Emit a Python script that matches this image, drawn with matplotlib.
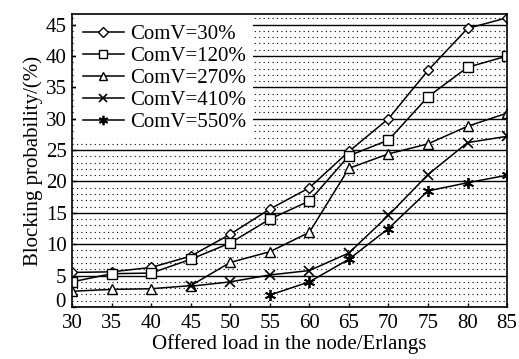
import numpy as np
from matplotlib import pyplot as plt
from matplotlib.ticker import MultipleLocator, FuncFormatter

plt.rcParams['font.family'] = ['Liberation Serif', 'DejaVu Serif']

# offered load (Erlangs)
load = [30, 35, 40, 45, 50, 55, 60, 65, 70, 75, 80, 85]

# blocking probability (%) for each ComV setting
comv30 = [5.5, 5.6, 6.3, 8.1, 11.6, 15.6, 19.0, 24.8, 30.0, 37.7, 44.4, 46.1]
comv120 = [4.0, 5.3, 5.4, 7.6, 10.2, 14.0, 16.9, 24.1, 26.6, 33.5, 38.2, 40.0]
comv270 = [2.5, 2.8, 2.9, 3.4, 7.1, 8.8, 11.9, 22.1, 24.4, 26.0, 28.8, 30.9]
load410 = [45, 50, 55, 60, 65, 70, 75, 80, 85]
comv410 = [3.3, 4.0, 5.1, 5.8, 8.6, 14.6, 21.1, 26.2, 27.2]
load550 = [55, 60, 65, 70, 75, 80, 85]
comv550 = [1.9, 4.0, 7.6, 12.5, 18.5, 19.8, 21.0]

labels = ["ComV=30%", "ComV=120%", "ComV=270%", "ComV=410%", "ComV=550%"]

fig = plt.figure(figsize=(5.19, 3.59), dpi=100)
ax = fig.add_axes([0.139, 0.145, 0.838, 0.816])

ms = 7
ax.plot(load, comv30, color='k', lw=1.1, marker='D', ms=ms - 1.5, mfc='white', mec='k', label=labels[0])
ax.plot(load, comv120, color='k', lw=1.1, marker='s', ms=ms, mfc='white', mec='k', label=labels[1])
ax.plot(load, comv270, color='k', lw=1.1, marker='^', ms=ms, mfc='white', mec='k', label=labels[2])
ax.plot(load410, comv410, color='k', lw=1.1, marker='x', ms=ms, mew=1.2, label=labels[3])
ax.plot(load550, comv550, color='k', lw=1.1, marker=(6, 2, 0), ms=ms + 1, mew=1.3, label=labels[4])

ax.set_xlim(30, 85)
ax.set_ylim(0, 46.7)
ax.xaxis.set_major_locator(MultipleLocator(5))
ax.yaxis.set_major_locator(MultipleLocator(5))
ax.yaxis.set_minor_locator(MultipleLocator(1))
# the "0" label is drawn separately, lifted a bit to clear "30"
ax.yaxis.set_major_formatter(FuncFormatter(lambda v, p: "" if v == 0 else "%d" % v))
ax.grid(True, which='major', axis='y', color='k', lw=1.0)
ax.grid(True, which='minor', axis='y', color='k', lw=0.8, ls=(0, (1, 3)))
ax.set_axisbelow(True)
ax.tick_params(which='major', direction='in', length=3, labelsize=15, width=1)
ax.tick_params(which='minor', length=0)
ax.tick_params(axis='x', pad=5)
ax.tick_params(axis='y', pad=4)
for s in ax.spines.values():
    s.set_linewidth(1.2)

ax.annotate("0", xy=(0, 0), xycoords=('axes fraction', 'data'), xytext=(-5, 3),
            textcoords='offset points', ha='right', va='center', fontsize=15)

ax.set_xlabel("Offered load in the node/Erlangs", fontsize=15, labelpad=1)
ax.set_ylabel("Blocking probability/(%)", fontsize=15, labelpad=2)

leg = ax.legend(loc='upper left', fontsize=15, frameon=True, fancybox=False,
                edgecolor='none', facecolor='white', framealpha=1,
                handlelength=2.0, handletextpad=0.3, labelspacing=0.12,
                borderpad=0.3, borderaxespad=0.2, markerscale=0.85)

fig.savefig("out.png", dpi=100)
